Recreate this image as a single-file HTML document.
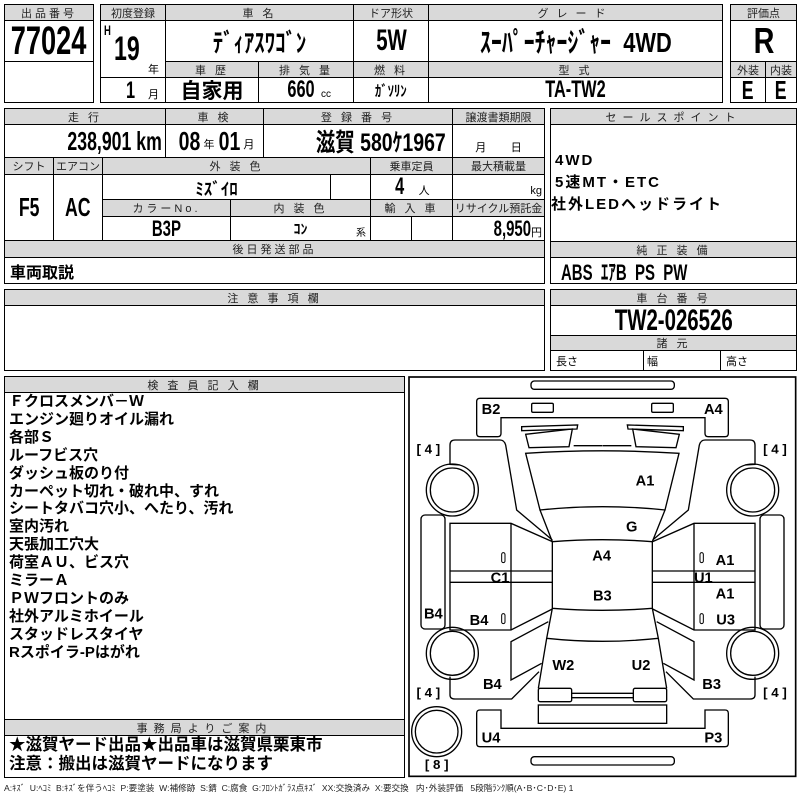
<!DOCTYPE html>
<html><head><meta charset="utf-8"><style>
body{margin:0;width:800px;height:800px;background:#fff;position:relative;overflow:hidden;font-family:"Liberation Sans","Noto Sans CJK JP",sans-serif;color:#000}
.c{position:absolute;border:1px solid #000;box-sizing:border-box;display:flex;align-items:center;justify-content:center;white-space:nowrap;overflow:hidden}
.h{background:#d9d9d9;font-size:11px;letter-spacing:3px;color:#222}
.n{font-weight:bold}
.s{display:inline-block;transform:scaleX(.68);white-space:nowrap}
.sr{transform-origin:right center}
.sl{transform-origin:left center}
.t{position:absolute;white-space:nowrap}
</style></head><body>
<!-- box1 -->
<div class="c h" style="left:4px;top:4px;width:90px;height:17px">出品番号</div>
<div class="c n" style="left:4px;top:20px;width:90px;height:42px;font-size:40px"><span class="s">77024</span></div>
<div class="c" style="left:4px;top:61px;width:90px;height:42px"></div>
<!-- box2 -->
<div class="c h" style="left:100px;top:4px;width:66px;height:17px;letter-spacing:0">初度登録</div>
<div class="c h" style="left:165px;top:4px;width:189px;height:17px">車 名</div>
<div class="c h" style="left:353px;top:4px;width:76px;height:17px;letter-spacing:0">ドア形状</div>
<div class="c h" style="left:428px;top:4px;width:295px;height:17px;letter-spacing:8px">グレード</div>
<div class="c" style="left:100px;top:20px;width:66px;height:58px"></div>
<div class="t n" style="left:104px;top:22px;font-size:14px"><span class="s sl">H</span></div>
<div class="t n" style="left:114px;top:30px;font-size:34px"><span class="s sl">19</span></div>
<div class="t" style="left:148px;top:61px;font-size:11px">年</div>
<div class="c" style="left:100px;top:77px;width:66px;height:26px"></div>
<div class="t n" style="left:126px;top:77px;font-size:24px"><span class="s sl">1</span></div>
<div class="t" style="left:148px;top:86px;font-size:11px">月</div>
<div class="c" style="left:165px;top:20px;width:189px;height:42px;font-size:26px;font-weight:bold"><span class="s" style="transform:scaleX(.8)">ﾃﾞｨｱｽﾜｺﾞﾝ</span></div>
<div class="c n" style="left:353px;top:20px;width:76px;height:42px;font-size:30px"><span class="s">5W</span></div>
<div class="c n" style="left:428px;top:20px;width:295px;height:42px;font-size:28px"><span class="s" style="transform:scaleX(.78)">ｽｰﾊﾟｰﾁｬｰｼﾞｬｰ&nbsp; 4WD</span></div>
<div class="c h" style="left:165px;top:61px;width:94px;height:17px">車 歴</div>
<div class="c h" style="left:258px;top:61px;width:96px;height:17px">排 気 量</div>
<div class="c h" style="left:353px;top:61px;width:76px;height:17px">燃 料</div>
<div class="c h" style="left:428px;top:61px;width:295px;height:17px">型 式</div>
<div class="c" style="left:165px;top:77px;width:94px;height:26px;font-size:21px;font-weight:bold">自家用</div>
<div class="c n" style="left:258px;top:77px;width:96px;height:26px;font-size:24px"><span class="s">660</span><span style="font-size:10px;font-weight:normal;margin-top:8px">cc</span></div>
<div class="c" style="left:353px;top:77px;width:76px;height:26px;font-size:15px;font-weight:bold"><span class="s" style="transform:scaleX(.85)">ｶﾞｿﾘﾝ</span></div>
<div class="c n" style="left:428px;top:77px;width:295px;height:26px;font-size:24px"><span class="s">TA-TW2</span></div>
<!-- box3 -->
<div class="c h" style="left:730px;top:4px;width:67px;height:17px;letter-spacing:0">評価点</div>
<div class="c n" style="left:730px;top:20px;width:67px;height:42px;font-size:36px"><span class="s" style="transform:scaleX(.8)">R</span></div>
<div class="c h" style="left:730px;top:61px;width:36px;height:17px;letter-spacing:0">外装</div>
<div class="c h" style="left:765px;top:61px;width:32px;height:17px;letter-spacing:0">内装</div>
<div class="c n" style="left:730px;top:77px;width:36px;height:26px;font-size:26px"><span class="s">E</span></div>
<div class="c n" style="left:765px;top:77px;width:32px;height:26px;font-size:26px"><span class="s">E</span></div>
<!-- row2 left -->
<div class="c h" style="left:4px;top:108px;width:162px;height:17px">走 行</div>
<div class="c h" style="left:165px;top:108px;width:99px;height:17px">車 検</div>
<div class="c h" style="left:263px;top:108px;width:190px;height:17px">登 録 番 号</div>
<div class="c h" style="left:452px;top:108px;width:93px;height:17px;letter-spacing:0">譲渡書類期限</div>
<div class="c n" style="left:4px;top:124px;width:162px;height:34px;font-size:26px;justify-content:flex-end;padding-right:3px"><span class="s sr">238,901 km</span></div>
<div class="c n" style="left:165px;top:124px;width:99px;height:34px;font-size:26px"><span class="s" style="transform:scaleX(.75)">08</span><span style="font-size:11px;font-weight:normal;margin:6px 0 0">年</span><span class="s" style="transform:scaleX(.75)">01</span><span style="font-size:11px;font-weight:normal;margin-top:6px">月</span></div>
<div class="c n" style="left:263px;top:124px;width:190px;height:34px;font-size:25px;justify-content:flex-end;padding-right:6px"><span class="s sr" style="transform:scaleX(.78)">滋賀 580ｹ1967</span></div>
<div class="c" style="left:452px;top:124px;width:93px;height:34px;font-size:11px;align-items:flex-end;padding-bottom:2px">月&nbsp;&nbsp;&nbsp;&nbsp;&nbsp;&nbsp;&nbsp;&nbsp;日</div>
<div class="c h" style="left:4px;top:157px;width:50px;height:18px;letter-spacing:0">シフト</div>
<div class="c h" style="left:53px;top:157px;width:50px;height:18px;letter-spacing:0">エアコン</div>
<div class="c h" style="left:102px;top:157px;width:269px;height:18px">外 装 色</div>
<div class="c h" style="left:370px;top:157px;width:83px;height:18px;letter-spacing:0">乗車定員</div>
<div class="c h" style="left:452px;top:157px;width:93px;height:18px;letter-spacing:0">最大積載量</div>
<div class="c n" style="left:4px;top:174px;width:50px;height:67px;font-size:26px"><span class="s">F5</span></div>
<div class="c n" style="left:53px;top:174px;width:50px;height:67px;font-size:26px"><span class="s">AC</span></div>
<div class="c" style="left:102px;top:174px;width:229px;height:26px;font-size:17px;font-weight:bold">ﾐｽﾞｲﾛ</div>
<div class="c" style="left:330px;top:174px;width:41px;height:26px"></div>
<div class="c n" style="left:370px;top:174px;width:83px;height:26px;font-size:24px"><span class="s">4</span><span style="font-size:11px;font-weight:normal;margin-left:12px;margin-top:6px">人</span></div>
<div class="c" style="left:452px;top:174px;width:93px;height:26px;font-size:11px;justify-content:flex-end;align-items:flex-end;padding:0 2px 2px 0">kg</div>
<div class="c h" style="left:102px;top:199px;width:129px;height:18px">カラーNo.</div>
<div class="c h" style="left:230px;top:199px;width:141px;height:18px">内 装 色</div>
<div class="c h" style="left:370px;top:199px;width:83px;height:18px">輸 入 車</div>
<div class="c h" style="left:452px;top:199px;width:93px;height:18px;letter-spacing:0">リサイクル預託金</div>
<div class="c n" style="left:102px;top:216px;width:129px;height:25px;font-size:22px"><span class="s">B3P</span></div>
<div class="c" style="left:230px;top:216px;width:141px;height:25px;font-size:14px;font-weight:bold">ｺﾝ<span style="position:absolute;right:4px;bottom:1px;font-size:10px;font-weight:normal">系</span></div>
<div class="c" style="left:370px;top:216px;width:42px;height:25px"></div>
<div class="c" style="left:411px;top:216px;width:42px;height:25px"></div>
<div class="c n" style="left:452px;top:216px;width:93px;height:25px;font-size:22px;justify-content:flex-end;padding-right:2px"><span class="s sr">8,950</span><span style="font-size:11px;font-weight:normal;margin-top:6px">円</span></div>
<div class="c h" style="left:4px;top:240px;width:541px;height:18px">後日発送部品</div>
<div class="c" style="left:4px;top:257px;width:541px;height:27px;font-size:16px;font-weight:bold;justify-content:flex-start;padding-left:5px">車両取説</div>
<!-- row2 right -->
<div class="c h" style="left:550px;top:108px;width:247px;height:17px;letter-spacing:6px">セールスポイント</div>
<div class="c" style="left:550px;top:124px;width:247px;height:118px;display:block"></div>
<div class="t" style="left:555px;top:150px;font-size:15px;line-height:22px;font-weight:bold;letter-spacing:2px">4WD<br>5速MT・ETC<br><span style="margin-left:-4px">社外LEDヘッドライト</span></div>
<div class="c h" style="left:550px;top:241px;width:247px;height:17px">純 正 装 備</div>
<div class="c n" style="left:550px;top:257px;width:247px;height:27px;font-size:22px;justify-content:flex-start;padding-left:10px"><span class="s sl">ABS&nbsp; ｴｱB&nbsp; PS&nbsp; PW</span></div>
<!-- row3 -->
<div class="c h" style="left:4px;top:289px;width:541px;height:17px">注 意 事 項 欄</div>
<div class="c" style="left:4px;top:305px;width:541px;height:66px"></div>
<div class="c h" style="left:550px;top:289px;width:247px;height:17px">車 台 番 号</div>
<div class="c n" style="left:550px;top:305px;width:247px;height:31px;font-size:30px"><span class="s">TW2-026526</span></div>
<div class="c h" style="left:550px;top:335px;width:247px;height:16px">諸 元</div>
<div class="c" style="left:550px;top:350px;width:94px;height:21px;font-size:11px;justify-content:flex-start;padding-left:5px">長さ</div>
<div class="c" style="left:643px;top:350px;width:78px;height:21px;font-size:11px;justify-content:flex-start;padding-left:3px">幅</div>
<div class="c" style="left:720px;top:350px;width:77px;height:21px;font-size:11px;justify-content:flex-start;padding-left:5px">高さ</div>
<!-- row4 left -->
<div class="c h" style="left:4px;top:376px;width:401px;height:17px">検 査 員 記 入 欄</div>
<div class="c" style="left:4px;top:392px;width:401px;height:328px"></div>
<div class="t" style="left:9px;top:393px;font-size:15px;line-height:17.9px;font-weight:bold">Ｆクロスメンバ－Ｗ<br>エンジン廻りオイル漏れ<br>各部Ｓ<br>ルーフビス穴<br>ダッシュ板のり付<br>カーペット切れ・破れ中、すれ<br>シートタバコ穴小、へたり、汚れ<br>室内汚れ<br>天張加工穴大<br>荷室ＡＵ、ビス穴<br>ミラーＡ<br>ＰＷフロントのみ<br>社外アルミホイール<br>スタッドレスタイヤ<br>Rスポイラ-Pはがれ</div>
<div class="c h" style="left:4px;top:719px;width:401px;height:17px;letter-spacing:6px">事務局よりご案内</div>
<div class="c" style="left:4px;top:735px;width:401px;height:43px;display:block"></div>
<div class="t" style="left:9px;top:736px;font-size:16.5px;line-height:19px;font-weight:bold">★滋賀ヤード出品★出品車は滋賀県栗東市<br>注意：搬出は滋賀ヤードになります</div>
<div class="t" style="left:4px;top:782px;font-size:8.6px;color:#222">A:ｷｽﾞ&nbsp; U:ﾍｺﾐ&nbsp; B:ｷｽﾞを伴うﾍｺﾐ&nbsp; P:要塗装&nbsp; W:補修跡&nbsp; S:錆&nbsp; C:腐食&nbsp; G:ﾌﾛﾝﾄｶﾞﾗｽ点ｷｽﾞ&nbsp; XX:交換済み&nbsp; X:要交換&nbsp;&nbsp; 内･外装評価&nbsp;&nbsp; 5段階ﾗﾝｸ順(A･B･C･D･E) 1</div>
<!-- diagram -->
<svg style="position:absolute;left:405px;top:375px" width="395" height="425" viewBox="0 0 1185 1275">
<g fill="none" stroke="#000" stroke-width="4">
<rect x="12" y="6" width="1160" height="1198" stroke-width="5"/>
<rect x="378" y="18" width="430" height="25" rx="10"/>
<rect x="378" y="1145" width="430" height="25" rx="10"/>
<path d="M592,128 L288,128 L288,175 Q288,185 278,185 L225,185 Q215,185 215,175 L215,80 Q215,70 225,70 L960,70 Q970,70 970,80 L970,175 Q970,185 960,185 L910,185 Q900,185 900,175 L900,128 Z"/>
<path d="M592,1060 L288,1060 L288,1005 L225,1005 Q215,1005 215,1015 L215,1105 Q215,1115 225,1115 L960,1115 Q970,1115 970,1105 L970,1015 Q970,1005 960,1005 L900,1005 L900,1060 Z"/>
<rect x="400" y="990" width="385" height="55"/>
<path d="M362,235 Q592,220 822,235 L780,405 Q592,385 405,405 Z"/>
<path d="M405,405 L442,500 Q592,488 742,500 L780,405"/>
<path d="M442,500 L442,700 Q592,712 742,700 L742,500"/>
<path d="M442,700 L425,790 L400,940 M742,700 L760,790 L785,940 M425,790 Q592,808 760,790"/>
<line x1="500" y1="955" x2="685" y2="955"/><line x1="500" y1="968" x2="685" y2="968"/>
<g id="L">
<path d="M350,155 L518,150 L516,162 L350,167 Z"/>
<path d="M362,178 L502,162 L492,215 L372,218 Z"/>
<path d="M506,212 L592,212"/>
<rect x="380" y="85" width="65" height="27" rx="4"/>
<rect x="400" y="940" width="100" height="40" rx="5"/>
<path d="M442,495 L335,405 L302,210 Q298,195 285,195 L150,195 Q135,195 135,210 L135,268 L165,270"/>
<circle cx="142" cy="345" r="78"/><circle cx="142" cy="345" r="66"/>
<circle cx="142" cy="835" r="78"/><circle cx="142" cy="835" r="66"/>
<rect x="48" y="420" width="72" height="342" rx="12"/>
<path d="M442,500 L318,445 L135,445 L135,765 L318,765 L442,702"/>
<line x1="318" y1="445" x2="318" y2="765"/>
<line x1="135" y1="588" x2="442" y2="588"/><line x1="135" y1="622" x2="442" y2="622"/>
<rect x="290" y="533" width="10" height="30" rx="5" stroke-width="3"/>
<rect x="290" y="716" width="10" height="30" rx="5" stroke-width="3"/>
<path d="M430,740 L318,800 L318,915 L410,865"/>
<path d="M135,905 L135,960 Q135,972 150,972 L320,972 L402,890"/>
</g>
<use href="#L" transform="translate(1185,0) scale(-1,1)"/>
<circle cx="95" cy="1070" r="75"/><circle cx="95" cy="1070" r="64"/>
</g>
<g font-family="Liberation Sans, sans-serif" font-weight="bold" font-size="44" text-anchor="middle" dominant-baseline="central" fill="#000">
<text x="258" y="105">B2</text><text x="925" y="105">A4</text>
<text x="720" y="320">A1</text><text x="680" y="457">G</text>
<text x="590" y="545">A4</text><text x="285" y="610">C1</text><text x="895" y="610">U1</text>
<text x="960" y="558">A1</text><text x="960" y="658">A1</text><text x="962" y="737">U3</text>
<text x="85" y="718">B4</text><text x="222" y="738">B4</text><text x="592" y="665">B3</text>
<text x="475" y="873">W2</text><text x="708" y="873">U2</text>
<text x="262" y="930">B4</text><text x="920" y="930">B3</text>
<text x="258" y="1090">U4</text><text x="925" y="1090">P3</text>
<g font-weight="bold" font-size="40"><text x="70" y="222">[ 4 ]</text><text x="1110" y="222">[ 4 ]</text>
<text x="70" y="952">[ 4 ]</text><text x="1110" y="952">[ 4 ]</text><text x="95" y="1168">[ 8 ]</text></g>
</g>
</svg>
</body></html>
